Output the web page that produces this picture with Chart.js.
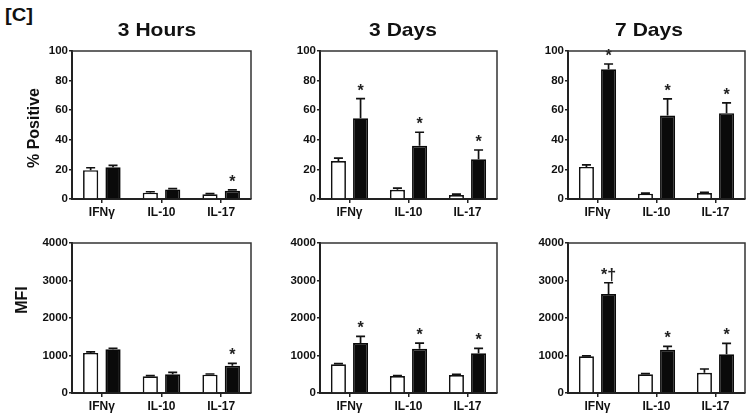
<!DOCTYPE html>
<html><head><meta charset="utf-8">
<script src="https://cdn.jsdelivr.net/npm/chart.js@4.4.1/dist/chart.umd.min.js"></script>
<style>
html,body{margin:0;padding:0;background:#fff;width:750px;height:416px;overflow:hidden;font-family:"Liberation Sans",Arial,sans-serif;}
.lbl{position:absolute;font-weight:bold;color:#111;white-space:nowrap;z-index:2;}
.ttl{position:absolute;font-weight:bold;color:#111;white-space:nowrap;text-align:center;font-size:18.6px;line-height:20px;width:140px;z-index:2;transform:scaleX(1.13);}
.rot{position:absolute;font-weight:bold;color:#111;white-space:nowrap;font-size:16px;line-height:18px;transform:translate(-50%,-50%) rotate(-90deg);z-index:2;}
canvas{position:absolute;z-index:1;}
</style></head><body>
<div class="lbl" style="left:5px;top:5px;font-size:17.5px;transform:scaleX(1.15);transform-origin:0 0;">[C]</div>
<div class="rot" style="left:34px;top:128px;">% Positive</div>
<div class="rot" style="left:22px;top:300px;">MFI</div>
<script>
// ---- data ----
const categories = ['IFNγ', 'IL-10', 'IL-17'];
const timepoints = ['3 Hours', '3 Days', '7 Days'];
const rowAxisTitles = ['% Positive', 'MFI'];

// % Positive (top row): open bars / filled bars, with upper error (SEM)
const pctOpen3h   = [19.5, 4.3, 3.2];   const pctOpenErr3h   = [1.6, 0.6, 0.4];
const pctFilled3h = [21.5, 6.5, 5.6];   const pctFilledErr3h = [1.2, 0.5, 0.5];
const pctMarks3h  = ['', '', '*'];
const pctOpen3d   = [25.6, 6.3, 2.7];   const pctOpenErr3d   = [2.0, 1.0, 0.6];
const pctFilled3d = [54.6, 36.0, 26.8]; const pctFilledErr3d = [13.2, 9.1, 6.3];
const pctMarks3d  = ['*', '*', '*'];
const pctOpen7d   = [21.7, 3.6, 4.0];   const pctOpenErr7d   = [1.3, 0.4, 0.5];
const pctFilled7d = [87.6, 56.4, 58.0]; const pctFilledErr7d = [3.6, 11.3, 7.0];
const pctMarks7d  = ['*', '*', '*'];

// MFI (bottom row)
const mfiOpen3h   = [1070, 444, 489];   const mfiOpenErr3h   = [25, 18, 18];
const mfiFilled3h = [1164, 498, 729];   const mfiFilledErr3h = [30, 50, 62];
const mfiMarks3h  = ['', '', '*'];
const mfiOpen3d   = [764, 453, 480];    const mfiOpenErr3d   = [18, 10, 18];
const mfiFilled3d = [1333, 1182, 1058]; const mfiFilledErr3d = [178, 150, 133];
const mfiMarks3d  = ['*', '*', '*'];
const mfiOpen7d   = [978, 498, 542];    const mfiOpenErr7d   = [10, 17, 98];
const mfiFilled7d = [2640, 1156, 1031]; const mfiFilledErr7d = [300, 88, 293];
const mfiMarks7d  = ['*†', '*', '*'];

const pctTicks = {max: 100, step: 20};
const mfiTicks = {max: 4000, step: 1000};

// ---- layout ----
const colLeft = [72, 320, 568], colWidth = [179, 177, 177];
const rowTop = [51, 243], rowHeight = [148, 150];
const titleCenters = [157, 403, 649];
const PADL = 50, PADT = 14, PADR = 6, PADB = 28;
const FONT = '"Liberation Sans", Arial, sans-serif';

timepoints.forEach((t, i) => {
  const d = document.createElement('div');
  d.className = 'ttl'; d.textContent = t;
  d.style.left = (titleCenters[i] - 70) + 'px'; d.style.top = '20px';
  document.body.appendChild(d);
});

const annot = {
  id: 'annot',
  afterDatasetsDraw(chart) {
    const ctx = chart.ctx; const ca = chart.chartArea; const ys = chart.scales.y;
    ctx.save();
    chart.data.datasets.forEach((ds, di) => {
      const meta = chart.getDatasetMeta(di);
      meta.data.forEach((bar, i) => {
        const v = ds.data[i], e = ds.errors[i];
        const y0 = ys.getPixelForValue(v), y1 = ys.getPixelForValue(v + e);
        ctx.strokeStyle = '#111'; ctx.lineWidth = 1.7;
        ctx.beginPath();
        ctx.moveTo(bar.x, y0); ctx.lineTo(bar.x, y1);
        ctx.moveTo(bar.x - 4.5, y1); ctx.lineTo(bar.x + 4.5, y1);
        ctx.stroke();
        const m = ds.marks ? ds.marks[i] : '';
        if (m) {
          ctx.fillStyle = '#222'; ctx.font = 'bold 16px ' + FONT;
          ctx.textAlign = 'center'; ctx.textBaseline = 'alphabetic';
          ctx.fillText(m, bar.x, y1 - 3);
        }
      });
    });
    ctx.strokeStyle = '#333'; ctx.lineWidth = 1.5;
    ctx.beginPath();
    ctx.moveTo(ca.left, ca.top); ctx.lineTo(ca.right, ca.top); ctx.lineTo(ca.right, ca.bottom);
    ctx.stroke();
    ctx.restore();
  }
};

function makePanel(row, col, open, openErr, filled, filledErr, marks, tk) {
  const c = document.createElement('canvas');
  const w = colWidth[col] + PADL + PADR, h = rowHeight[row] + PADT + PADB;
  c.width = w; c.height = h;
  c.style.left = (colLeft[col] - PADL) + 'px';
  c.style.top = (rowTop[row] - PADT) + 'px';
  c.style.width = w + 'px'; c.style.height = h + 'px';
  document.body.appendChild(c);
  new Chart(c, {
    type: 'bar',
    data: {
      labels: categories,
      datasets: [
        {data: open, errors: openErr, backgroundColor: '#fff', borderColor: '#111', borderWidth: 1.7,
         categoryPercentage: 0.75, barPercentage: 0.68},
        {data: filled, errors: filledErr, marks: marks, backgroundColor: '#0a0a0a', borderColor: '#0a0a0a', borderWidth: 1.7,
         categoryPercentage: 0.75, barPercentage: 0.68}
      ]
    },
    options: {
      responsive: false, animation: false, devicePixelRatio: 1,
      layout: {padding: {top: PADT, right: PADR, left: 0, bottom: 0}},
      plugins: {legend: {display: false}, tooltip: {enabled: false}},
      scales: {
        x: {
          grid: {display: true, drawOnChartArea: false, drawTicks: true, tickLength: 4, offset: false, color: '#222', lineWidth: 1.5},
          border: {display: true, color: '#222', width: 2},
          ticks: {color: '#111', font: {family: FONT, size: 12, weight: 'bold'}, padding: 2, maxRotation: 0},
          afterFit(s) { s.height = PADB; }
        },
        y: {
          min: 0, max: tk.max,
          grid: {display: true, drawOnChartArea: false, drawTicks: true, tickLength: 3, color: '#222', lineWidth: 1.5},
          border: {display: true, color: '#222', width: 2},
          ticks: {stepSize: tk.step, color: '#111', font: {family: FONT, size: 11.5, weight: 'bold'}, padding: 1,
                  callback: v => String(v)},
          afterFit(s) { s.width = PADL; }
        }
      }
    },
    plugins: [annot]
  });
}

makePanel(0, 0, pctOpen3h, pctOpenErr3h, pctFilled3h, pctFilledErr3h, pctMarks3h, pctTicks);
makePanel(0, 1, pctOpen3d, pctOpenErr3d, pctFilled3d, pctFilledErr3d, pctMarks3d, pctTicks);
makePanel(0, 2, pctOpen7d, pctOpenErr7d, pctFilled7d, pctFilledErr7d, pctMarks7d, pctTicks);
makePanel(1, 0, mfiOpen3h, mfiOpenErr3h, mfiFilled3h, mfiFilledErr3h, mfiMarks3h, mfiTicks);
makePanel(1, 1, mfiOpen3d, mfiOpenErr3d, mfiFilled3d, mfiFilledErr3d, mfiMarks3d, mfiTicks);
makePanel(1, 2, mfiOpen7d, mfiOpenErr7d, mfiFilled7d, mfiFilledErr7d, mfiMarks7d, mfiTicks);
</script>
</body></html>
